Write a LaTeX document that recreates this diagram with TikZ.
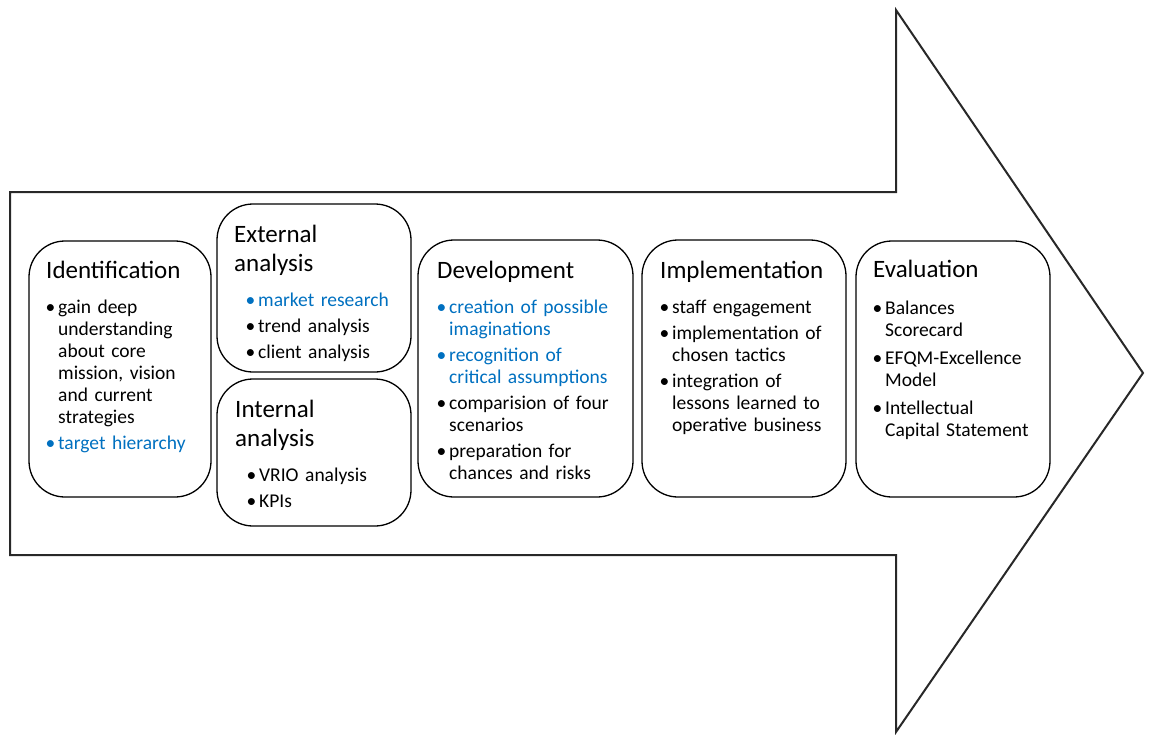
\documentclass[tikz,border=0pt]{standalone}
\usepackage{fontspec}
\setmainfont{Carlito}
\usepackage{xcolor}
\usetikzlibrary{positioning}

\definecolor{itemblue}{RGB}{0,112,192}
\definecolor{arrowgray}{RGB}{40,40,40}

\newlength{\bulletw}
\setlength{\bulletw}{12pt}
% bullet item with hanging indent
\newcommand{\bitem}[2][black]{\par\hangindent=\bulletw\hangafter=1\noindent{\color{#1}\hbox to\bulletw{\hspace{-0.5pt}\textbullet\hfil}#2}}
\newcommand{\stagetitle}[1]{{\fontsize{25}{29}\selectfont #1\par}\vspace{9pt}}

\begin{document}
\begin{tikzpicture}[
    x=1pt, y=-1pt,
    stage/.style={draw=black, line width=1.3pt, rounded corners=36pt},
    stage text/.style={anchor=base west, inner sep=0pt, text width=190pt,
        font=\fontsize{19.5}{22}\selectfont\setlength{\parskip}{4pt}\setlength{\parindent}{0pt}},
    big arrow/.style={draw=arrowgray, line width=2pt, line join=miter}
]

\useasboundingbox (0,0) rectangle (1149,734);

% --- the big arrow ---
\coordinate (aTL) at (10,192);
\coordinate (aBL) at (10,555);
\coordinate (hT) at (896,10);
\coordinate (hB) at (896,732);
\coordinate (tip) at (1143,373);
\draw[big arrow] (aTL) -- (896,192) -- (hT) -- (tip) -- (hB) -- (896,555) -- (aBL) -- cycle;

% --- stage boxes ---
\draw[stage] (29,241) rectangle (211,497);
\draw[stage] (217,204) rectangle (411,372);
\draw[stage] (217,379) rectangle (411,526);
\draw[stage] (418,240) rectangle (633,497);
\draw[stage] (642,240) rectangle (846,497);
\draw[stage] (856,241) rectangle (1050,497);

% --- texts ---
\node[stage text] (ident) at (46,278) {\stagetitle{Identification}%
    \bitem{gain deep\newline understanding\newline about core\newline mission, vision\newline and current\newline strategies}
    \bitem[itemblue]{target hierarchy}\par};

\node[stage text] (extern) at (234,242) {\stagetitle{External\newline analysis}%
    \setlength{\leftskip}{12pt}%
    \bitem[itemblue]{market research}
    \bitem{trend analysis}
    \bitem{client analysis}\par};

\node[stage text] (intern) at (235,417) {\stagetitle{Internal\newline analysis}%
    \setlength{\leftskip}{12pt}%
    \bitem{VRIO analysis}
    \bitem{KPIs}\par};

\node[stage text] (devel) at (437,278) {\stagetitle{Development}%
    \bitem[itemblue]{creation of possible\newline imaginations}
    \bitem[itemblue]{recognition of\newline critical assumptions}
    \bitem{comparision of four\newline scenarios}
    \bitem{preparation for\newline chances and risks}\par};

\node[stage text] (implem) at (660,278) {\stagetitle{Implementation}%
    \bitem{staff engagement}
    \bitem{implementation of\newline chosen tactics}
    \bitem{integration of\newline lessons learned to\newline operative business}\par};

\node[stage text] (evalu) at (873,277) {\stagetitle{Evaluation}%
    \setlength{\parskip}{6pt}%
    \bitem{Balances\newline Scorecard}
    \bitem{EFQM-Excellence\newline Model}
    \bitem{Intellectual\newline Capital Statement}\par};

\end{tikzpicture}
\end{document}
